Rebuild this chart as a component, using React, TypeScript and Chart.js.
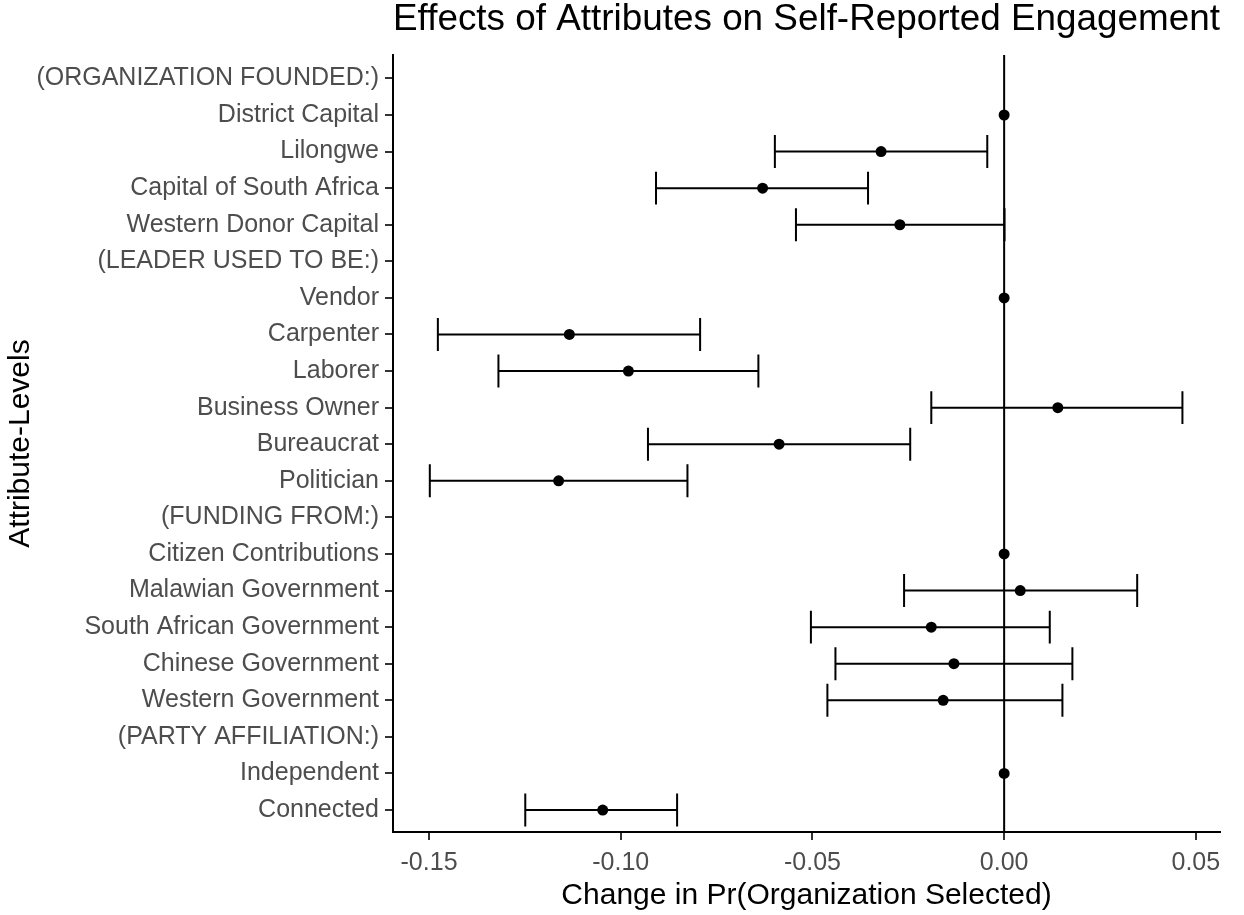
import React, { useEffect, useRef } from "react";
import { Chart, registerables } from "chart.js";

Chart.register(...registerables);

const categories = [
  "(ORGANIZATION FOUNDED:)",
  "District Capital",
  "Lilongwe",
  "Capital of South Africa",
  "Western Donor Capital",
  "(LEADER USED TO BE:)",
  "Vendor",
  "Carpenter",
  "Laborer",
  "Business Owner",
  "Bureaucrat",
  "Politician",
  "(FUNDING FROM:)",
  "Citizen Contributions",
  "Malawian Government",
  "South African Government",
  "Chinese Government",
  "Western Government",
  "(PARTY AFFILIATION:)",
  "Independent",
  "Connected",
];

const estimates: (number | null)[] = [
  null, 0, -0.0321, -0.063, -0.0272,
  null, 0, -0.1134, -0.098, 0.014, -0.0587, -0.1162,
  null, 0, 0.0042, -0.019, -0.0131, -0.0159,
  null, 0, -0.1047,
];

const lowerCI: (number | null)[] = [
  null, null, -0.0598, -0.0908, -0.0543,
  null, null, -0.1477, -0.1319, -0.019, -0.0929, -0.1498,
  null, null, -0.0261, -0.0504, -0.044, -0.0461,
  null, null, -0.1249,
];

const upperCI: (number | null)[] = [
  null, null, -0.0044, -0.0355, 0.0001,
  null, null, -0.0793, -0.0641, 0.0465, -0.0245, -0.0826,
  null, null, 0.0347, 0.0119, 0.0178, 0.0152,
  null, null, -0.0853,
];

const xTickValues = [-0.15, -0.1, -0.05, 0, 0.05];
const referenceValue = 0;

const FONT = "'Liberation Sans', Arial, Helvetica, sans-serif";

export default function App() {
  const canvasRef = useRef<HTMLCanvasElement | null>(null);

  useEffect(() => {
    const canvas = canvasRef.current;
    if (!canvas) return;

    const errorBarPlugin = {
      id: "errorBars",
      beforeDatasetsDraw(chart: any) {
        const { ctx, chartArea } = chart;
        const xs = chart.scales.x;
        const ys = chart.scales.y;
        ctx.save();
        ctx.strokeStyle = "#000";
        ctx.lineWidth = 2;
        const zx = xs.getPixelForValue(referenceValue);
        ctx.beginPath();
        ctx.moveTo(zx, chartArea.top);
        ctx.lineTo(zx, chartArea.bottom);
        ctx.stroke();

        ctx.lineWidth = 2;
        const capHalf = 0.45;
        lowerCI.forEach((lo, i) => {
          const hi = upperCI[i];
          if (lo == null || hi == null) return;
          const py = ys.getPixelForValue(i);
          const t = ys.getPixelForValue(i - capHalf);
          const b = ys.getPixelForValue(i + capHalf);
          const x1 = xs.getPixelForValue(lo);
          const x2 = xs.getPixelForValue(hi);
          ctx.beginPath();
          ctx.moveTo(x1, py);
          ctx.lineTo(x2, py);
          ctx.moveTo(x1, t);
          ctx.lineTo(x1, b);
          ctx.moveTo(x2, t);
          ctx.lineTo(x2, b);
          ctx.stroke();
        });
        ctx.restore();
      },
    };

    const points = estimates
      .map((v, i) => (v === null ? null : { x: v, y: i }))
      .filter((p) => p !== null);

    const chart = new Chart(canvas, {
      type: "scatter",
      data: {
        datasets: [
          {
            data: points as any,
            pointRadius: 5.5,
            pointBackgroundColor: "#000",
            pointBorderColor: "#000",
            pointBorderWidth: 0,
            showLine: false,
          },
        ],
      },
      plugins: [errorBarPlugin],
      options: {
        responsive: false,
        animation: false,
        layout: { padding: { left: 0, right: 24, top: 0, bottom: 0 } },
        plugins: {
          legend: { display: false },
          tooltip: { enabled: false },
          title: {
            display: true,
            text: "Effects of Attributes on Self-Reported Engagement",
            align: "start",
            fullSize: false,
            color: "#000",
            font: { family: FONT, size: 37, weight: "normal", lineHeight: 0.9 },
            padding: { top: 3, bottom: 18.7 },
          },
        },
        scales: {
          x: {
            type: "linear",
            min: -0.1594,
            max: 0.0563,
            afterBuildTicks: (s: any) => {
              s.ticks = xTickValues.map((v) => ({ value: v }));
            },
            afterFit: (s: any) => {
              s.height = 83;
            },
            grid: {
              drawOnChartArea: false,
              drawTicks: true,
              tickLength: 8,
              color: "#333",
              lineWidth: 2,
            },
            border: { display: true, color: "#000", width: 2 },
            ticks: {
              color: "#4D4D4D",
              font: { family: FONT, size: 25 },
              padding: 8,
              maxRotation: 0,
              callback: (v: any) => Number(v).toFixed(2),
            },
            title: {
              display: true,
              text: "Change in Pr(Organization Selected)",
              color: "#000",
              font: { family: FONT, size: 30 },
              padding: { top: 0, bottom: 1 },
            },
          },
          y: {
            type: "linear",
            reverse: true,
            min: -0.64,
            max: 20.6,
            afterBuildTicks: (s: any) => {
              s.ticks = categories.map((_, i) => ({ value: i }));
            },
            afterFit: (s: any) => {
              s.width = 393;
            },
            grid: {
              drawOnChartArea: false,
              drawTicks: true,
              tickLength: 8,
              color: "#333",
              lineWidth: 2,
            },
            border: { display: true, color: "#000", width: 2 },
            ticks: {
              autoSkip: false,
              color: "#4D4D4D",
              font: { family: FONT, size: 25 },
              padding: 6,
              callback: (v: any) => categories[Math.round(Number(v))] ?? "",
            },
            title: {
              display: true,
              text: "Attribute-Levels",
              color: "#000",
              font: { family: FONT, size: 30 },
              padding: { top: 3, bottom: 0 },
            },
          },
        },
      },
    } as any);

    return () => {
      chart.destroy();
    };
  }, []);

  return (
    <div
      style={{
        position: "absolute",
        left: 0,
        top: 0,
        width: 1244,
        height: 915,
        background: "#fff",
      }}
    >
      <canvas
        ref={canvasRef}
        width={1244}
        height={915}
        style={{ display: "block", width: 1244, height: 915 }}
      />
    </div>
  );
}
